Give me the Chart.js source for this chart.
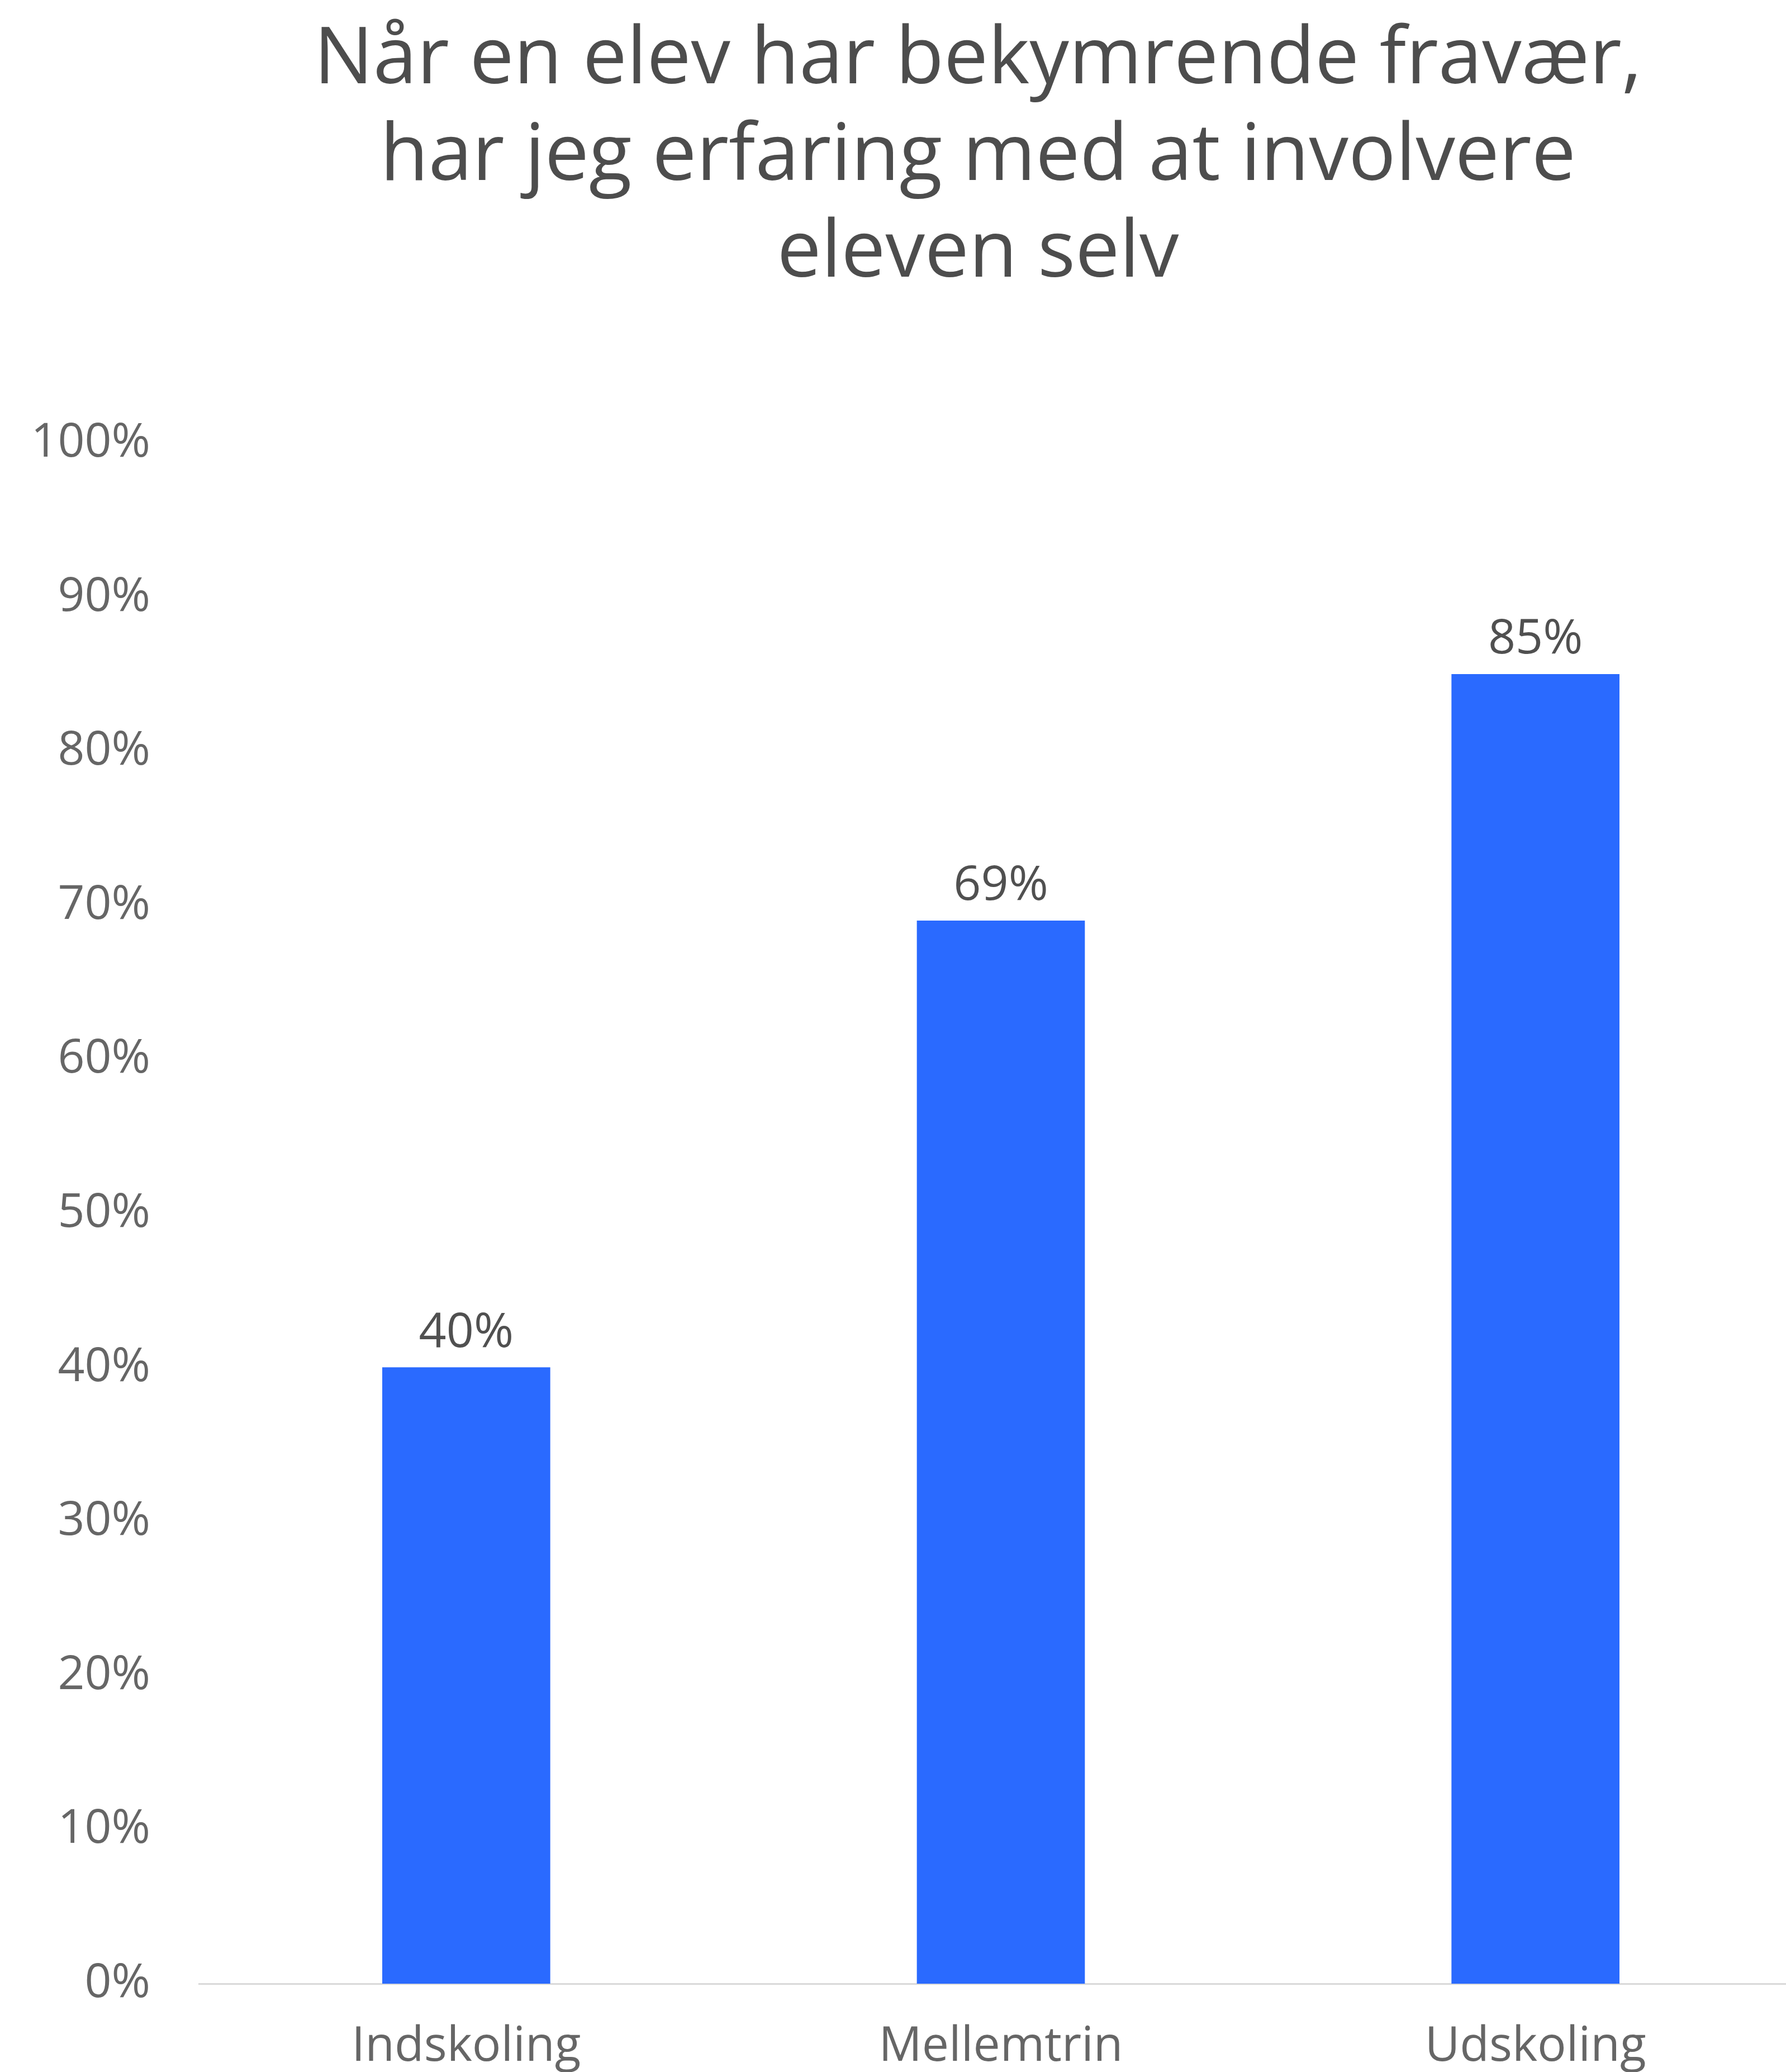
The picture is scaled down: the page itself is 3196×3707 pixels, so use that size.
<!DOCTYPE html>
<html>
<head>
<meta charset="utf-8">
<script src="https://cdn.jsdelivr.net/npm/chart.js@4.4.1/dist/chart.umd.min.js"></script>
<style>
  html, body { margin: 0; padding: 0; background: #fff; overflow: hidden; }
  #wrap { position: relative; width: 3226px; height: 3760px; }
  #title {
    position: absolute; left: 0; top: 8px; width: 3500px;
    text-align: center; font-family: 'Open Sans', sans-serif;
    font-size: 141px; line-height: 173px; color: #4d4d4d;
  }
  #chart-box { position: absolute; left: 0; top: 0; width: 3226px; height: 3760px; }
</style>
</head>
<body>
<div id="wrap">
  <div id="chart-box"><canvas id="bar-chart"></canvas></div>
  <div id="title">Når en elev har bekymrende fravær,<br>har jeg erfaring med at involvere<br>eleven selv</div>
</div>
<script>
var categories = ['Indskoling', 'Mellemtrin', 'Udskoling'];
var shares = [40, 69, 85];
var yTicks = [0, 10, 20, 30, 40, 50, 60, 70, 80, 90, 100];

var valueLabels = {
  id: 'valueLabels',
  afterDatasetsDraw: function(chart) {
    var ctx = chart.ctx;
    var meta = chart.getDatasetMeta(0);
    ctx.save();
    ctx.font = '86px "Open Sans", sans-serif';
    ctx.fillStyle = '#505050';
    ctx.textAlign = 'center';
    ctx.textBaseline = 'alphabetic';
    meta.data.forEach(function(bar, i) {
      ctx.fillText(shares[i] + '%', bar.x, bar.y - 37);
    });
    ctx.restore();
  }
};

var ctx = document.getElementById('bar-chart').getContext('2d');
var barChart = new Chart(ctx, {
  type: 'bar',
  data: {
    labels: categories,
    datasets: [{
      data: shares,
      backgroundColor: '#2a6aff',
      borderWidth: 0,
      barThickness: 300
    }]
  },
  options: {
    responsive: true,
    maintainAspectRatio: false,
    animation: false,
    layout: { padding: { top: 793, right: 0, bottom: 0, left: 0 } },
    plugins: {
      legend: { display: false },
      tooltip: { enabled: false },
      title: { display: false }
    },
    scales: {
      x: {
        grid: { display: false, drawTicks: false },
        border: { display: true, color: '#d9d9d9', width: 3 },
        ticks: {
          color: '#666666',
          padding: 62,
          font: { family: 'Open Sans', size: 86 }
        },
        afterFit: function(scale) { scale.height = 211; }
      },
      y: {
        min: 0,
        max: 100,
        grid: { display: false, drawTicks: false },
        border: { display: false },
        afterBuildTicks: function(scale) {
          scale.ticks = yTicks.map(function(v) { return { value: v }; });
        },
        ticks: {
          color: '#666666',
          padding: 87,
          font: { family: 'Open Sans', size: 84 },
          callback: function(v) { return v + '%'; }
        },
        afterFit: function(scale) { scale.width = 356; }
      }
    }
  },
  plugins: [valueLabels]
});
</script>
</body>
</html>
